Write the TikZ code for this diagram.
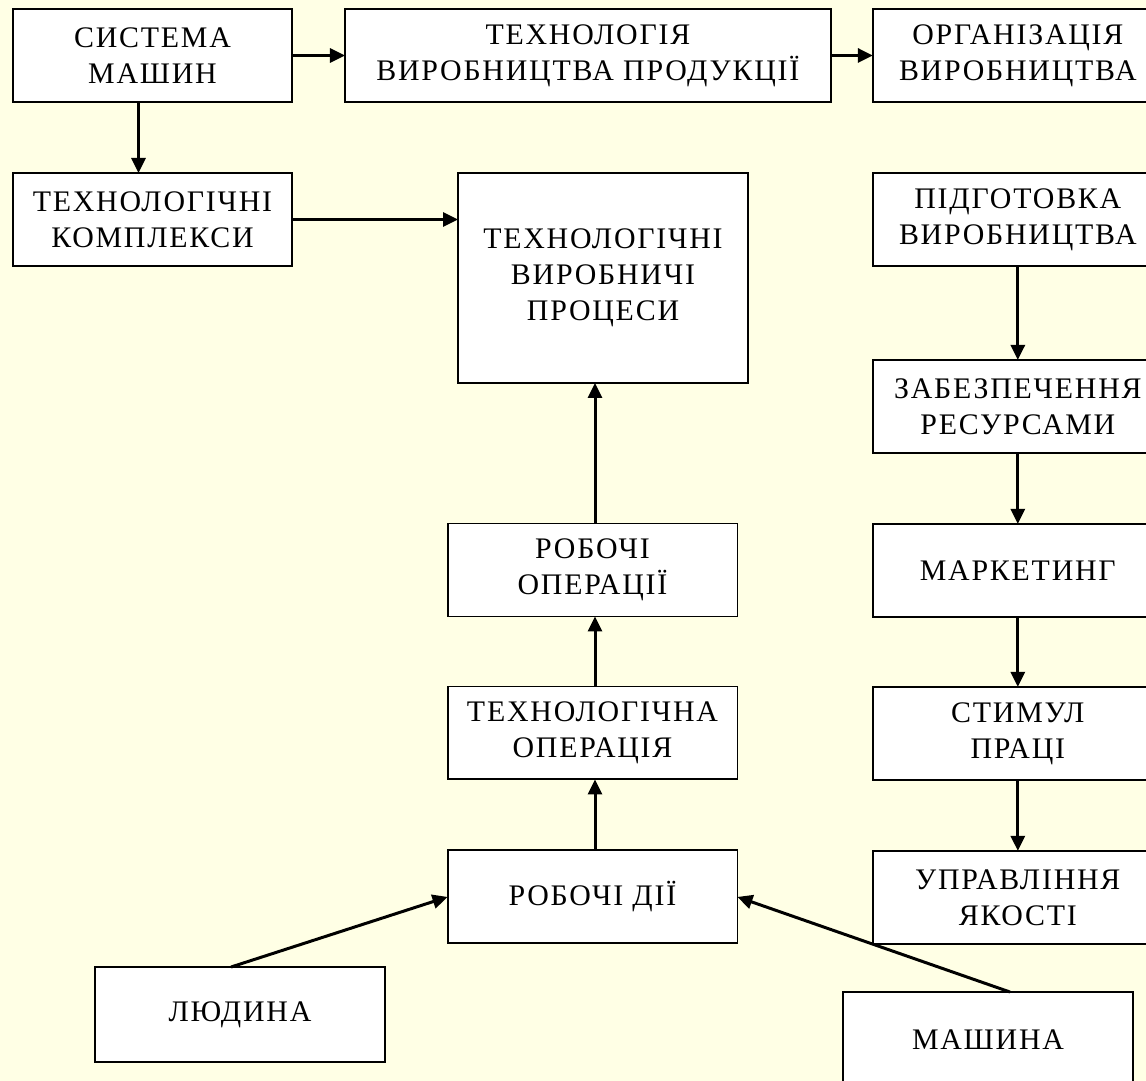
\documentclass[tikz,border=0pt]{standalone}
\usepackage{fontspec}
\setmainfont{Liberation Serif}[LetterSpace=6]
\usetikzlibrary{arrows.meta}
\usetikzlibrary{positioning}
\definecolor{paleyellow}{RGB}{255,255,229}
\tikzset{
  blok/.style={draw, line width=1.1pt, fill=white, align=center,
    minimum width=5.8cm, minimum height=1.86cm, inner sep=2pt, outer sep=0pt,
    font=\fontsize{17}{20.5}\selectfont},
  strilka/.style={-{Triangle[length=0.3cm,width=0.28cm]}, line width=1.7pt},
}

\begin{document}
\begin{tikzpicture}[x=0.02cm, y=-0.02cm, node distance=1.42cm]
		\path[clip] (0,0) rectangle (1146,1081);
		\fill[paleyellow] (0,0) rectangle (1146,1081);
		% top row
		\node[blok, minimum width=5.58cm] (sys) at (152.5,55.5) {СИСТЕМА\\МАШИН};
		\node[blok, minimum width=9.72cm, right=1.06cm of sys] (tech) {ТЕХНОЛОГІЯ\\ВИРОБНИЦТВА ПРОДУКЦІЇ};
		\node[blok, right=0.84cm of tech] (org) {ОРГАНІЗАЦІЯ\\ВИРОБНИЦТВА};
		% left and middle
		\node[blok, minimum width=5.58cm, below=of sys] (kompl) {ТЕХНОЛОГІЧНІ\\КОМПЛЕКСИ};
		\node[blok, minimum height=4.2cm] (proc) at (603,278) {ТЕХНОЛОГІЧНІ\\ВИРОБНИЧІ\\ПРОЦЕСИ};
		\node[blok] (robop) at (592.5,570) {РОБОЧІ\\ОПЕРАЦІЇ};
		\node[blok, below=1.4cm of robop] (tehop) {ТЕХНОЛОГІЧНА\\ОПЕРАЦІЯ};
		\node[blok, below=of tehop] (dii) {РОБОЧІ ДІЇ};
		\node[blok, minimum height=1.9cm] (ljud) at (240,1014.5) {ЛЮДИНА};
		\node[blok, minimum height=1.9cm] (mash) at (988,1039.5) {МАШИНА};
		% right column
		\node[blok, below=of org] (pidg) {ПІДГОТОВКА\\ВИРОБНИЦТВА};
		\node[blok, below=1.88cm of pidg] (res) {ЗАБЕЗПЕЧЕННЯ\\РЕСУРСАМИ};
		\node[blok, below=of res] (mark) {МАРКЕТИНГ};
		\node[blok, below=1.4cm of mark] (stim) {СТИМУЛ\\ПРАЦІ};
		\node[blok, below=of stim] (jak) {УПРАВЛІННЯ\\ЯКОСТІ};
		% arrows
		\draw[strilka] (sys) -- (tech);
		\draw[strilka] (tech) -- (org);
		\draw[strilka] ([xshift=-0.28cm]sys.south) -- ([xshift=-0.28cm]kompl.north);
		\draw[strilka] (kompl.east) -- (kompl.east -| proc.west);
		\draw[strilka] ([xshift=0.05cm]robop.north) -- ([xshift=0.05cm]robop.north |- proc.south);
		\draw[strilka] ([xshift=0.05cm]tehop.north) -- ([xshift=0.05cm]robop.south);
		\draw[strilka] ([xshift=0.05cm]dii.north) -- ([xshift=0.05cm]tehop.south);
		\draw[strilka] (pidg) -- (res);
		\draw[strilka] (res) -- (mark);
		\draw[strilka] (mark) -- (stim);
		\draw[strilka] (stim) -- (jak);
		\draw[strilka] ([xshift=-0.18cm]ljud.north) -- (dii.west);
		\draw[strilka] ([xshift=0.44cm]mash.north) -- (dii.east);
	\end{tikzpicture}
\end{document}
